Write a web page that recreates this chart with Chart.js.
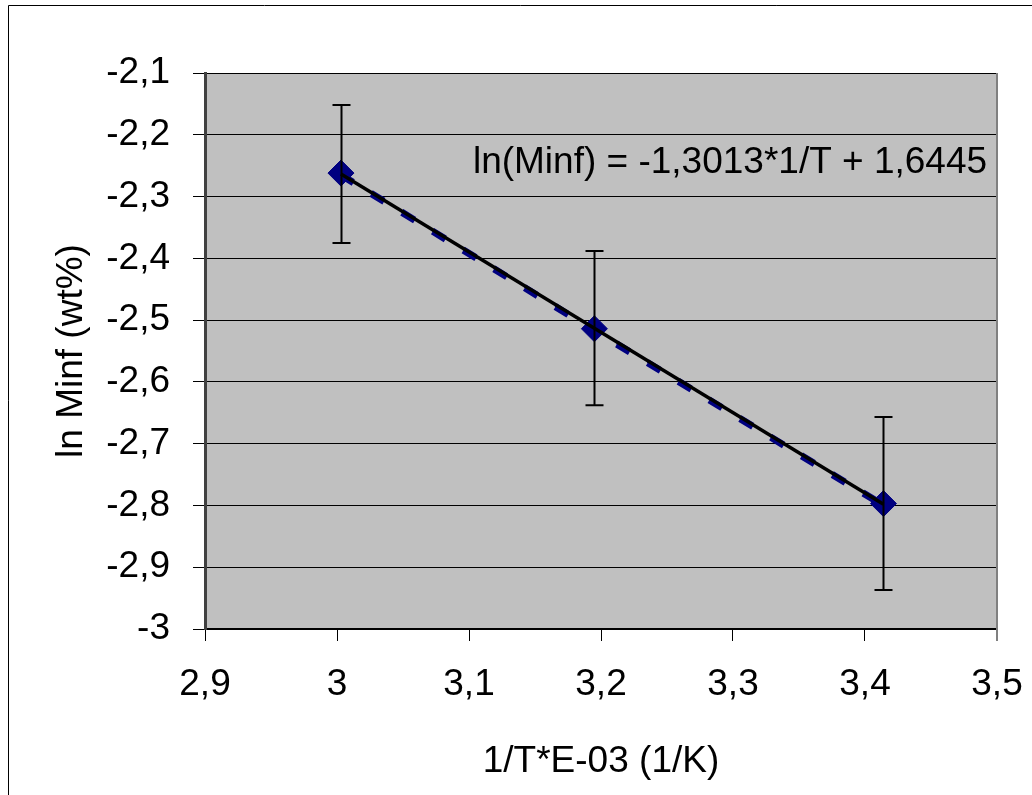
<!DOCTYPE html>
<html>
<head>
<meta charset="utf-8">
<script src="https://cdn.jsdelivr.net/npm/chart.js@4/dist/chart.umd.min.js"></script>
<style>
  html, body { margin: 0; padding: 0; background: #fff; }
  #wrap { width: 1032px; height: 795px; position: relative; }
</style>
</head>
<body>
<div id="wrap"><canvas id="chart" width="1032" height="795"></canvas></div>
<script>
// data
const invT = [3.003, 3.195, 3.414];
const lnMinf = [-2.262, -2.514, -2.797];
const errUp = [0.110, 0.126, 0.140];
const errDown = [0.113, 0.124, 0.140];

// trendline shown on the chart
const slope = -1.3013;
const intercept = 1.6445;
const eqText = 'ln(Minf) = -1,3013*1/T + 1,6445';

const xTickValues = [2.9, 3.0, 3.1, 3.2, 3.3, 3.4, 3.5];
const xTickLabels = ['2,9', '3', '3,1', '3,2', '3,3', '3,4', '3,5'];
const yTickValues = [-3, -2.9, -2.8, -2.7, -2.6, -2.5, -2.4, -2.3, -2.2, -2.1];
const yTickLabels = ['-3', '-2,9', '-2,8', '-2,7', '-2,6', '-2,5', '-2,4', '-2,3', '-2,2', '-2,1'];

const NAVY = '#000080';
const PLOT_BG = '#C0C0C0';
const FONT = "'Liberation Sans', Arial, sans-serif";
const FS = 37;

Chart.defaults.font.family = FONT;
Chart.defaults.color = '#000';

const trendX = [invT[0], invT[invT.length - 1]];

// background, frame, error bars and equation
const decor = {
  id: 'decor',
  beforeDraw(chart) {
    const { ctx, chartArea: a } = chart;
    ctx.save();
    ctx.fillStyle = PLOT_BG;
    ctx.fillRect(a.left, a.top, a.right - a.left, a.bottom - a.top);
    // outer frame (only top/left edges are in view)
    ctx.strokeStyle = '#000';
    ctx.lineWidth = 1;
    ctx.beginPath();
    ctx.moveTo(8.5, 800);
    ctx.lineTo(8.5, 5.5);
    ctx.lineTo(1040, 5.5);
    ctx.stroke();
    ctx.restore();
  },
  // excel draws the dashed series slightly offset under the trendline
  beforeDatasetDraw(chart, args) {
    if (args.index === 1) {
      const ctx = chart.ctx;
      ctx.save();
      ctx.shadowColor = NAVY;
      ctx.shadowOffsetX = -1;
      ctx.shadowOffsetY = 3;
      ctx.shadowBlur = 0;
    }
  },
  afterDatasetDraw(chart, args) {
    if (args.index === 1) chart.ctx.restore();
  },
  afterDatasetsDraw(chart) {
    const { ctx, chartArea: a } = chart;
    const xs = chart.scales.x, ys = chart.scales.y;
    ctx.save();
    // right edge of plot area
    ctx.strokeStyle = '#808080';
    ctx.lineWidth = 2;
    ctx.beginPath();
    ctx.moveTo(a.right, a.top);
    ctx.lineTo(a.right, a.bottom + 12);
    ctx.stroke();
    // error bars
    ctx.strokeStyle = '#000';
    ctx.lineWidth = 2;
    invT.forEach((x, i) => {
      const px = Math.round(xs.getPixelForValue(x)) + 0.5;
      const top = ys.getPixelForValue(lnMinf[i] + errUp[i]);
      const bot = ys.getPixelForValue(lnMinf[i] - errDown[i]);
      ctx.beginPath();
      ctx.moveTo(px, top); ctx.lineTo(px, bot);
      ctx.moveTo(px - 9, top); ctx.lineTo(px + 9, top);
      ctx.moveTo(px - 9, bot); ctx.lineTo(px + 9, bot);
      ctx.stroke();
    });
    // equation label
    ctx.fillStyle = '#000';
    ctx.font = FS + 'px ' + FONT;
    ctx.textAlign = 'right';
    ctx.textBaseline = 'middle';
    ctx.fillText(eqText, xs.getPixelForValue(3.4925), ys.getPixelForValue(-2.2455));
    ctx.restore();
  }
};

new Chart(document.getElementById('chart'), {
  type: 'scatter',
  data: {
    datasets: [
      {
        label: 'trend',
        data: trendX.map(x => ({ x, y: slope * x + intercept })),
        showLine: true,
        borderColor: '#000',
        borderWidth: 3.5,
        pointRadius: 0,
        order: 0,
      },
      {
        label: 'ln Minf line',
        data: invT.map((x, i) => ({ x, y: lnMinf[i] })),
        showLine: true,
        borderColor: NAVY,
        borderWidth: 4,
        borderDash: [15, 21],
        pointRadius: 0,
        order: 2,
      },
      {
        label: 'ln Minf',
        data: invT.map((x, i) => ({ x, y: lnMinf[i] })),
        showLine: false,
        pointStyle: 'rectRot',
        pointRadius: 13,
        pointBackgroundColor: NAVY,
        pointBorderColor: NAVY,
        pointBorderWidth: 1,
        order: 1,
      },
    ],
  },
  options: {
    responsive: false,
    animation: false,
    layout: { padding: { top: 73, right: 35, left: 0, bottom: 0 } },
    plugins: { legend: { display: false }, tooltip: { enabled: false } },
    scales: {
      x: {
        type: 'linear',
        min: 2.9,
        max: 3.5,
        afterBuildTicks: s => { s.ticks = xTickValues.map(v => ({ value: v })); },
        afterFit: s => { s.height = 166; s.paddingLeft = 0; s.paddingRight = 0; },
        grid: { drawOnChartArea: false, drawTicks: true, tickLength: 12, color: '#000', lineWidth: 1 },
        border: { color: '#000', width: 2 },
        ticks: {
          padding: 22,
          maxRotation: 0,
          font: { size: FS },
          callback: (v, i) => xTickLabels[i],
        },
        title: {
          display: true,
          text: '1/T*E-03 (1/K)',
          font: { size: FS },
          padding: { top: 0, bottom: 11 },
        },
      },
      y: {
        type: 'linear',
        min: -3,
        max: -2.1,
        afterBuildTicks: s => { s.ticks = yTickValues.map(v => ({ value: v })); },
        afterFit: s => { s.width = 205; s.paddingTop = 0; s.paddingBottom = 0; },
        grid: { color: '#000', lineWidth: 1, tickLength: 12 },
        border: { color: '#404040', width: 3 },
        ticks: {
          padding: 23,
          font: { size: FS },
          callback: (v, i) => yTickLabels[i],
        },
        title: {
          display: true,
          text: 'ln Minf (wt%)',
          font: { size: FS },
          padding: { top: 50, bottom: 0 },
        },
      },
    },
  },
  plugins: [decor],
});
</script>
</body>
</html>
